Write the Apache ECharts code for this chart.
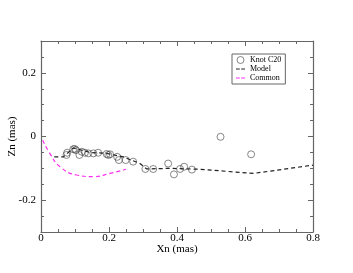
<!DOCTYPE html>
<html><head><meta charset="utf-8">
<script src="https://cdn.jsdelivr.net/npm/echarts@6/dist/echarts.min.js"></script>
<style>html,body{margin:0;padding:0;background:#fff}#c{width:353px;height:273px}</style>
</head><body><div id="c"></div>
<script>
const knotX = [0.075,0.077,0.095,0.099,0.103,0.113,0.120,0.129,0.139,0.154,0.168,0.193,0.198,0.203,0.224,0.229,0.249,0.271,0.307,0.330,0.374,0.391,0.409,0.421,0.444,0.528,0.618];
const knotY = [-0.058,-0.051,-0.040,-0.039,-0.043,-0.058,-0.048,-0.051,-0.053,-0.053,-0.051,-0.055,-0.058,-0.056,-0.064,-0.074,-0.074,-0.079,-0.102,-0.102,-0.085,-0.119,-0.102,-0.095,-0.104,-0.001,-0.056];
const modelX = [0.039,0.066,0.095,0.144,0.193,0.242,0.291,0.311,0.379,0.468,0.625,0.800];
const modelY = [-0.064,-0.064,-0.036,-0.050,-0.053,-0.064,-0.085,-0.102,-0.100,-0.103,-0.116,-0.090];
const commonX = [0.005,0.026,0.056,0.105,0.154,0.203,0.250];
const commonY = [-0.012,-0.053,-0.095,-0.121,-0.126,-0.116,-0.103];
const xTicks = [0,0.2,0.4,0.6,0.8];
const yTicks = [-0.2,0,0.2];

const zip = (a,b)=>a.map((v,i)=>[v,b[i]]);
const fmt = v => (v===0?'0':String(+v.toFixed(1)));
const axCol = '#666';
const font = 'Liberation Serif';
function xa(pos, show){
  return {type:'value', position:pos, min:0, max:0.8, interval:0.2,
    axisLine:{show:true,onZero:false,lineStyle:{color:axCol,width:1.2}},
    axisTick:{show:true,inside:true,length:5,lineStyle:{color:axCol}},
    minorTick:{show:true,splitNumber:4,length:3,lineStyle:{color:axCol}},
    splitLine:{show:false},
    axisLabel:{show:show,color:'#000',fontFamily:font,fontSize:11,margin:1,formatter:fmt},
    name: show?'Xn (mas)':'', nameLocation:'middle', nameGap:12, nameMoveOverlap:false,
    nameTextStyle:{color:'#000',fontFamily:font,fontSize:11}};
}
// minor-tick y axis (every 0.05) with labels at the majors
function yMinor(pos, show){
  return {type:'value', position:pos, min:-0.3, max:0.3, interval:0.05,
    axisLine:{show:true,onZero:false,lineStyle:{color:axCol,width:1.2}},
    axisTick:{show:true,inside:true,length:3,lineStyle:{color:axCol}},
    splitLine:{show:false},
    axisLabel:{show:show,color:'#000',fontFamily:font,fontSize:11,margin:5,
      customValues:yTicks,formatter:fmt},
    name: show?'Zn (mas)':'', nameLocation:'middle', nameGap:23, nameMoveOverlap:false,
    nameTextStyle:{color:'#000',fontFamily:font,fontSize:11}};
}
// major-tick overlay
function yMajor(pos){
  return {type:'value', position:pos, min:-0.3, max:0.3, interval:0.05,
    axisLine:{show:false,onZero:false},
    axisTick:{show:true,inside:true,length:5,customValues:yTicks,lineStyle:{color:axCol}},
    splitLine:{show:false}, axisLabel:{show:false}};
}
const dashIcon = 'path://M0,0h5v1.4h-5z M7,0h5v1.4h-5z';
const chart = echarts.init(document.getElementById('c'));
chart.setOption({
  animation:false,
  grid:{left:41,top:41,right:40,bottom:41,outerBoundsMode:'none',containLabel:false},
  xAxis:[xa('bottom',true), xa('top',false)],
  yAxis:[yMinor('left',true), yMinor('right',false), yMajor('left'), yMajor('right')],
  legend:{left:232,top:54,orient:'vertical',itemGap:1,itemWidth:9,itemHeight:7,
    borderColor:'#666',borderWidth:1,padding:[2,4,2,4],
    textStyle:{fontFamily:font,fontSize:8,color:'#000'},
    data:[
      {name:'Knot C20',icon:'circle',itemStyle:{color:'rgba(0,0,0,0)',borderColor:'#444',borderWidth:0.8}},
      {name:'Model',icon:dashIcon,itemStyle:{color:'#222',borderWidth:0}},
      {name:'Common',icon:dashIcon,itemStyle:{color:'#ff2cf0',borderWidth:0}}]},
  series:[
    {name:'Knot C20',type:'scatter',symbol:'circle',symbolSize:7,data:zip(knotX,knotY),
      itemStyle:{color:'rgba(0,0,0,0)',borderColor:'#444',borderWidth:0.8}},
    {name:'Model',type:'line',showSymbol:false,symbol:'none',data:zip(modelX,modelY),
      lineStyle:{color:'#222',width:1.2,type:[4,3]},itemStyle:{color:'#222'}},
    {name:'Common',type:'line',showSymbol:false,symbol:'none',smooth:true,data:zip(commonX,commonY),
      lineStyle:{color:'#ff2cf0',width:1.2,type:[4,3]},itemStyle:{color:'#ff2cf0'}}
  ]
});
</script></body></html>
